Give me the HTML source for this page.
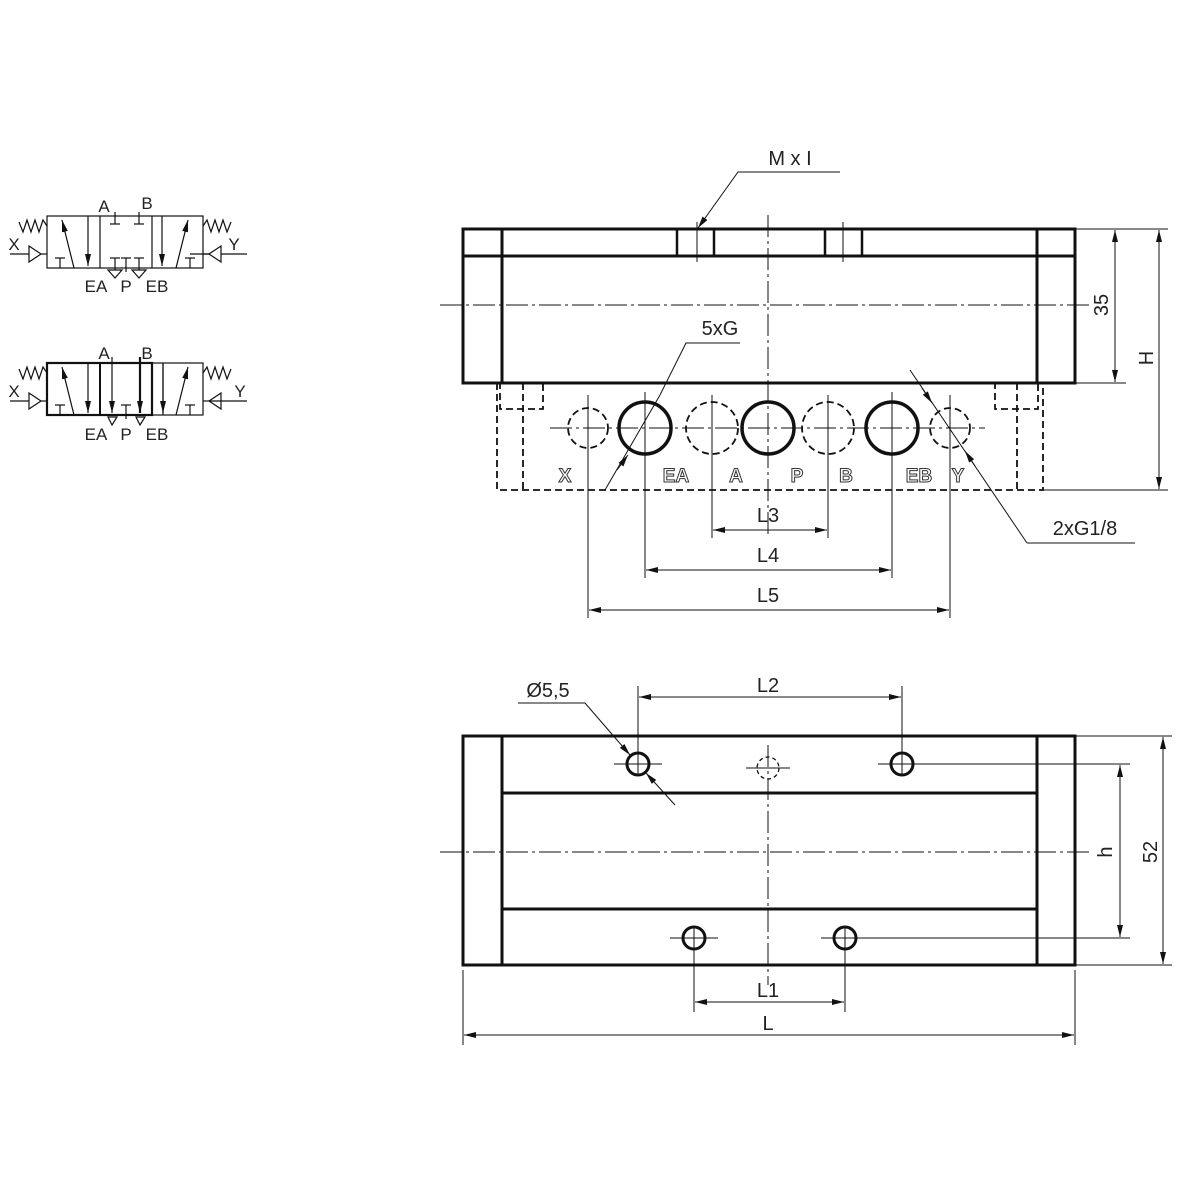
<!DOCTYPE html>
<html><head><meta charset="utf-8"><style>
html,body{margin:0;padding:0;background:#fff}
svg{display:block}
text{font-family:"Liberation Sans",sans-serif;fill:#222}
</style></head><body>
<svg width="1200" height="1200" viewBox="0 0 1200 1200" xmlns="http://www.w3.org/2000/svg">
<defs>
<marker id="a" viewBox="0 0 12 6" refX="12" refY="3" markerWidth="12" markerHeight="6" orient="auto-start-reverse" markerUnits="userSpaceOnUse"><path d="M0,0L12,3L0,6z" fill="#111"/></marker>
</defs>
<g stroke="#111" fill="none">
<!-- ===== symbols ===== -->
<g stroke-width="1.2">
<rect x="47" y="216" width="156" height="52"/>
<line x1="100" y1="216" x2="100" y2="268"/><line x1="152" y1="216" x2="152" y2="268"/>
<polyline points="47,226 43,220 39,232 35,220 31,232 27,220 23,232 19,222"/>
<polyline points="203,226 207,220 211,232 215,220 219,232 223,220 227,232 231,222"/>
<line x1="10" y1="254" x2="29" y2="254"/><path d="M29,246L41,254L29,262z"/><line x1="41" y1="254" x2="47" y2="254"/>
<line x1="190" y1="254" x2="247" y2="254"/><path d="M221,246L209,254L221,262z" fill="#fff"/><line x1="203" y1="254" x2="209" y2="254"/>
<line x1="74" y1="268" x2="62" y2="220" marker-end="url(#a)"/>
<line x1="88" y1="216" x2="88" y2="266" marker-end="url(#a)"/>
<line x1="55" y1="258" x2="65" y2="258"/><line x1="60" y1="258" x2="60" y2="268"/>
<line x1="162" y1="216" x2="162" y2="266" marker-end="url(#a)"/>
<line x1="176" y1="268" x2="188" y2="220" marker-end="url(#a)"/>
<line x1="185" y1="258" x2="195" y2="258"/><line x1="190" y1="258" x2="190" y2="268"/>
<line x1="110" y1="224" x2="120" y2="224"/><line x1="115" y1="212" x2="115" y2="224"/>
<line x1="134" y1="224" x2="144" y2="224"/><line x1="139" y1="212" x2="139" y2="224"/>
<line x1="110" y1="258" x2="120" y2="258"/><line x1="115" y1="258" x2="115" y2="270"/>
<line x1="121" y1="258" x2="131" y2="258"/><line x1="126" y1="258" x2="126" y2="272"/>
<line x1="134" y1="258" x2="144" y2="258"/><line x1="139" y1="258" x2="139" y2="270"/>
<path d="M108,270L115,278L122,270z"/><path d="M132,270L139,278L146,270z"/>
</g>
<g stroke-width="1.2">
<rect x="47" y="363" width="156" height="52"/>
<rect x="47" y="363" width="105" height="52" stroke-width="2.2"/>
<line x1="100" y1="363" x2="100" y2="415" stroke-width="2"/>
<line x1="163" y1="363" x2="163" y2="415"/>
<polyline points="47,373 43,367 39,379 35,367 31,379 27,367 23,379 19,369"/>
<polyline points="203,373 207,367 211,379 215,367 219,379 223,367 227,379 231,369"/>
<line x1="10" y1="401" x2="29" y2="401"/><path d="M29,393L41,401L29,409z"/><line x1="41" y1="401" x2="47" y2="401"/>
<line x1="209" y1="401" x2="247" y2="401"/><path d="M221,393L209,401L221,409z"/><line x1="203" y1="401" x2="209" y2="401"/>
<line x1="74" y1="415" x2="62" y2="367" marker-end="url(#a)"/>
<line x1="88" y1="363" x2="88" y2="413" marker-end="url(#a)"/>
<line x1="55" y1="405" x2="65" y2="405"/><line x1="60" y1="405" x2="60" y2="415"/>
<line x1="112" y1="357" x2="112" y2="413" marker-end="url(#a)"/>
<line x1="140" y1="357" x2="140" y2="413" stroke-width="2.2" marker-end="url(#a)"/>
<line x1="163" y1="363" x2="163" y2="413" marker-end="url(#a)"/>
<line x1="176" y1="415" x2="188" y2="367" marker-end="url(#a)"/>
<line x1="185" y1="405" x2="195" y2="405"/><line x1="190" y1="405" x2="190" y2="415"/>
<line x1="121" y1="405" x2="131" y2="405"/><line x1="126" y1="405" x2="126" y2="419"/>
<path d="M108,417L112,425L117,417z"/><path d="M136,417L140,425L145,417z"/>
</g>
<!-- ===== top view ===== -->
<g stroke-width="3">
<rect x="463" y="229" width="612" height="154"/>
<line x1="463" y1="256" x2="1075" y2="256"/>
<line x1="502" y1="229" x2="502" y2="383"/><line x1="1037" y1="229" x2="1037" y2="383"/>
<rect x="677" y="229" width="37" height="27" stroke-width="2.5"/>
<rect x="825" y="229" width="37" height="27" stroke-width="2.5"/>
</g>
<g stroke-width="1" stroke-dasharray="22,4,3,4">
<line x1="440" y1="305" x2="1092" y2="305"/>
<line x1="768" y1="215" x2="768" y2="535"/>
<line x1="550" y1="428" x2="985" y2="428"/>
</g>
<line x1="697" y1="222" x2="697" y2="262" stroke-width="1"/>
<line x1="843" y1="222" x2="843" y2="262" stroke-width="1"/>
<g stroke-width="1.8" stroke-dasharray="7,4">
<polyline points="497,383 497,490 1043,490 1043,383"/>
<rect x="500" y="383" width="43" height="26"/>
<rect x="995" y="383" width="43" height="26"/>
<line x1="523" y1="383" x2="523" y2="490"/><line x1="1017" y1="383" x2="1017" y2="490"/>
<circle cx="588" cy="428" r="20"/><circle cx="712" cy="428" r="26"/>
<circle cx="828" cy="428" r="26"/><circle cx="950" cy="428" r="20"/>
</g>
<g stroke-width="3.5">
<circle cx="645" cy="428" r="26"/><circle cx="768" cy="428" r="26"/><circle cx="892" cy="428" r="26"/>
</g>
<g stroke-width="1">
<line x1="588" y1="395" x2="588" y2="618"/><line x1="645" y1="392" x2="645" y2="578"/>
<line x1="712" y1="395" x2="712" y2="538"/><line x1="828" y1="395" x2="828" y2="538"/>
<line x1="892" y1="392" x2="892" y2="578"/><line x1="950" y1="395" x2="950" y2="618"/>
<line x1="713" y1="530" x2="827" y2="530" marker-start="url(#a)" marker-end="url(#a)"/>
<line x1="646" y1="570" x2="891" y2="570" marker-start="url(#a)" marker-end="url(#a)"/>
<line x1="589" y1="610" x2="949" y2="610" marker-start="url(#a)" marker-end="url(#a)"/>
<polyline points="840,172 738,172 698,228" marker-end="url(#a)"/>
<polyline points="740,343 686,343 660,395"/>
<line x1="660" y1="395" x2="605" y2="490"/>
<line x1="628" y1="455" x2="617" y2="470" marker-start="url(#a)"/>
<line x1="910" y1="370" x2="1027" y2="543"/><polyline points="1027,543 1135,543"/>
<line x1="922" y1="388" x2="932" y2="403" marker-end="url(#a)"/>
<line x1="975" y1="466" x2="965" y2="451" marker-end="url(#a)"/>
<line x1="1075" y1="229" x2="1168" y2="229"/><line x1="1075" y1="383" x2="1126" y2="383"/>
<line x1="1043" y1="490" x2="1168" y2="490"/>
<line x1="1115" y1="230" x2="1115" y2="382" marker-start="url(#a)" marker-end="url(#a)"/>
<line x1="1159" y1="230" x2="1159" y2="489" marker-start="url(#a)" marker-end="url(#a)"/>
</g>
<!-- ===== bottom view ===== -->
<g stroke-width="3">
<rect x="463" y="736" width="612" height="229"/>
<line x1="502" y1="736" x2="502" y2="965"/><line x1="1037" y1="736" x2="1037" y2="965"/>
<line x1="502" y1="793" x2="1037" y2="793"/><line x1="502" y1="909" x2="1037" y2="909"/>
<circle cx="638" cy="764" r="11"/><circle cx="902" cy="764" r="11"/>
<circle cx="694" cy="938" r="11"/><circle cx="845" cy="938" r="11"/>
</g>
<circle cx="768" cy="768" r="11" stroke-width="1.3" stroke-dasharray="4,3"/>
<g stroke-width="1" stroke-dasharray="22,4,3,4">
<line x1="440" y1="852" x2="1092" y2="852"/>
<line x1="768" y1="745" x2="768" y2="985"/>
</g>
<g stroke-width="1">
<line x1="614" y1="764" x2="662" y2="764"/><line x1="878" y1="764" x2="1130" y2="764"/>
<line x1="746" y1="768" x2="790" y2="768"/>
<line x1="670" y1="938" x2="718" y2="938"/><line x1="821" y1="938" x2="1130" y2="938"/>
<line x1="638" y1="686" x2="638" y2="776"/><line x1="902" y1="686" x2="902" y2="776"/>
<line x1="694" y1="926" x2="694" y2="1012"/><line x1="845" y1="926" x2="845" y2="1012"/>
<line x1="639" y1="697" x2="901" y2="697" marker-start="url(#a)" marker-end="url(#a)"/>
<line x1="695" y1="1002" x2="844" y2="1002" marker-start="url(#a)" marker-end="url(#a)"/>
<line x1="463" y1="970" x2="463" y2="1045"/><line x1="1075" y1="970" x2="1075" y2="1045"/>
<line x1="464" y1="1035" x2="1074" y2="1035" marker-start="url(#a)" marker-end="url(#a)"/>
<line x1="1075" y1="736" x2="1172" y2="736"/><line x1="1075" y1="965" x2="1172" y2="965"/>
<line x1="1120" y1="765" x2="1120" y2="937" marker-start="url(#a)" marker-end="url(#a)"/>
<line x1="1163" y1="737" x2="1163" y2="964" marker-start="url(#a)" marker-end="url(#a)"/>
<polyline points="518,703 585,703 630,755" marker-end="url(#a)"/>
<line x1="675" y1="805" x2="646" y2="773" marker-end="url(#a)"/>
</g>
</g>
<!-- text -->
<g font-size="16">
<text x="104" y="212" text-anchor="middle" font-size="17">A</text><text x="147" y="209" text-anchor="middle" font-size="17">B</text>
<text x="14" y="250" text-anchor="middle" font-size="17">X</text><text x="234" y="250" text-anchor="middle" font-size="17">Y</text>
<text x="96" y="292" text-anchor="middle" font-size="17">EA</text><text x="126" y="292" text-anchor="middle" font-size="17">P</text><text x="157" y="292" text-anchor="middle" font-size="17">EB</text>
<text x="104" y="359" text-anchor="middle" font-size="17">A</text><text x="147" y="359" text-anchor="middle" font-size="17">B</text>
<text x="14" y="397" text-anchor="middle" font-size="17">X</text><text x="240" y="397" text-anchor="middle" font-size="17">Y</text>
<text x="96" y="440" text-anchor="middle" font-size="17">EA</text><text x="126" y="440" text-anchor="middle" font-size="17">P</text><text x="157" y="440" text-anchor="middle" font-size="17">EB</text>
</g>
<g font-size="20" text-anchor="middle">
<text x="790" y="165">M x I</text>
<text x="720" y="335">5xG</text>
<text x="1085" y="535">2xG1/8</text>
<text x="768" y="522">L3</text><text x="768" y="562">L4</text><text x="768" y="602">L5</text>
<text x="768" y="692">L2</text><text x="548" y="697">Ø5,5</text>
<text x="768" y="997">L1</text><text x="768" y="1030">L</text>
<text transform="translate(1108,305) rotate(-90)">35</text>
<text transform="translate(1153,358) rotate(-90)">H</text>
<text transform="translate(1112,852) rotate(-90)">h</text>
<text transform="translate(1157,852) rotate(-90)">52</text>
</g>
<g font-size="19" font-weight="bold" text-anchor="middle" fill="#fff" stroke="#333" stroke-width="1">
<text x="565" y="482" style="fill:#fff">X</text><text x="676" y="482" style="fill:#fff">EA</text>
<text x="736" y="482" style="fill:#fff">A</text><text x="797" y="482" style="fill:#fff">P</text>
<text x="846" y="482" style="fill:#fff">B</text><text x="919" y="482" style="fill:#fff">EB</text>
<text x="958" y="482" style="fill:#fff">Y</text>
</g>
</svg>
</body></html>
